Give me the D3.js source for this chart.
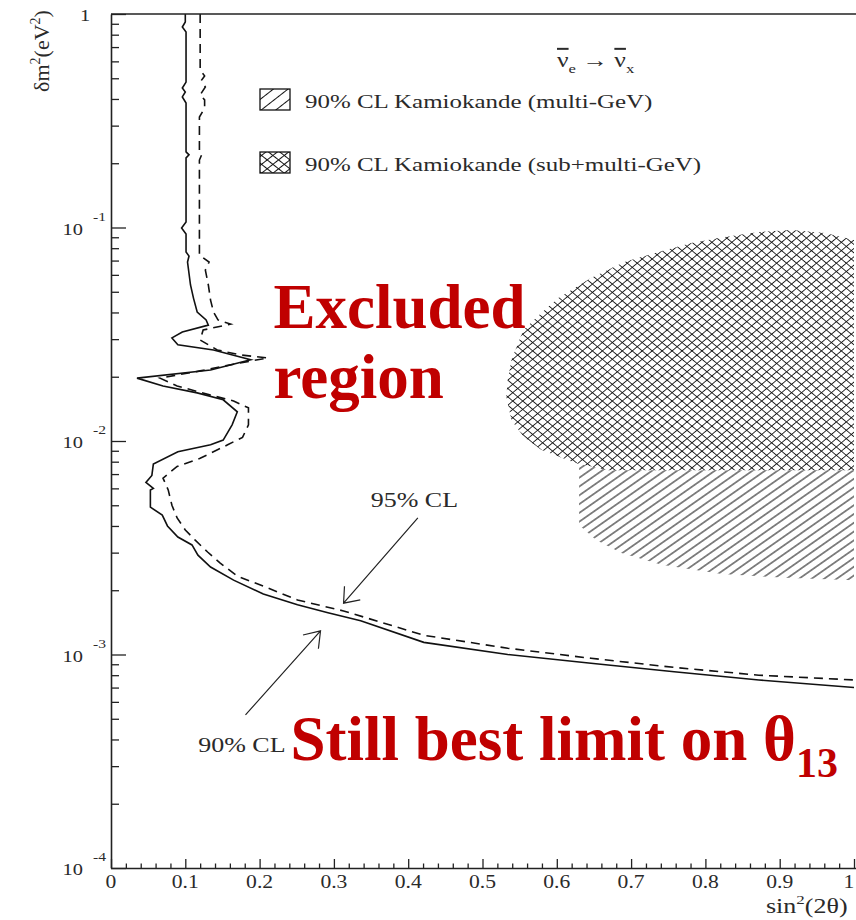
<!DOCTYPE html>
<html>
<head>
<meta charset="utf-8">
<script src="https://cdn.jsdelivr.net/npm/d3@7"></script>
<style>
  html, body { margin: 0; padding: 0; background: #fff; }
  svg { display: block; }
  .serif { font-family: "Liberation Serif", "Times New Roman", Times, serif; }
</style>
</head>
<body>
<svg id="chart" width="856" height="920"></svg>
<script>
// ---- Exclusion contours: [sin^2(2θ), δm^2 (eV^2)] ----
const cl90 = [
  [0.100, 1.0], [0.100, 0.917], [0.096, 0.869], [0.101, 0.823], [0.101, 0.480],
  [0.096, 0.450], [0.100, 0.431], [0.096, 0.409], [0.101, 0.383], [0.101, 0.226],
  [0.105, 0.219], [0.101, 0.212], [0.101, 0.106], [0.095, 0.0995], [0.101, 0.0932],
  [0.101, 0.0768], [0.105, 0.0735], [0.103, 0.0689], [0.107, 0.0538], [0.111, 0.0467],
  [0.116, 0.0402], [0.128, 0.0369], [0.131, 0.0349], [0.096, 0.0324], [0.082, 0.0304],
  [0.090, 0.0282], [0.138, 0.0267], [0.188, 0.0240], [0.134, 0.0215], [0.035, 0.0197],
  [0.070, 0.0181], [0.116, 0.0168], [0.151, 0.0156], [0.170, 0.0137], [0.163, 0.0119],
  [0.151, 0.0101], [0.134, 0.0096], [0.090, 0.0089], [0.057, 0.0078], [0.055, 0.0069],
  [0.047, 0.0064], [0.057, 0.0060], [0.053, 0.0059], [0.053, 0.0049], [0.069, 0.0045],
  [0.076, 0.0040], [0.090, 0.00355], [0.109, 0.00326], [0.117, 0.00292], [0.134, 0.00257],
  [0.165, 0.00223], [0.205, 0.00192], [0.251, 0.00171], [0.292, 0.00157], [0.336, 0.00144],
  [0.421, 0.00114], [0.534, 0.00100], [0.646, 0.00091], [0.758, 0.00083], [0.872, 0.00076],
  [1.0, 0.00070]
];

const cl95 = [
  [0.120, 1.0], [0.120, 0.547], [0.126, 0.513], [0.122, 0.491], [0.127, 0.455],
  [0.120, 0.418], [0.126, 0.396], [0.126, 0.363], [0.119, 0.329], [0.119, 0.226],
  [0.122, 0.219], [0.119, 0.207], [0.119, 0.0743], [0.132, 0.0689], [0.127, 0.0632],
  [0.131, 0.0538], [0.134, 0.0457], [0.138, 0.0402], [0.144, 0.0369], [0.161, 0.0353],
  [0.124, 0.0331], [0.120, 0.0297], [0.143, 0.0267], [0.174, 0.0253], [0.211, 0.0245],
  [0.165, 0.0229], [0.120, 0.0213], [0.066, 0.0197], [0.089, 0.0181], [0.134, 0.0164],
  [0.165, 0.0154], [0.185, 0.0143], [0.185, 0.0119], [0.177, 0.0104], [0.157, 0.0096],
  [0.120, 0.0083], [0.089, 0.0076], [0.070, 0.0067], [0.077, 0.0059], [0.082, 0.0050],
  [0.089, 0.00436], [0.100, 0.00383], [0.113, 0.00344], [0.130, 0.00302], [0.147, 0.00268],
  [0.170, 0.00233], [0.211, 0.00205], [0.251, 0.00180], [0.313, 0.00160], [0.421, 0.00123],
  [0.534, 0.00107], [0.646, 0.00096], [0.758, 0.00087], [0.872, 0.00080], [1.0, 0.00076]
];

// ---- Kamiokande 90% CL allowed regions ----
const kamSubMulti = [
  [0.532, 0.0161], [0.534, 0.0193], [0.539, 0.0240], [0.555, 0.0331], [0.579, 0.0398],
  [0.602, 0.0467], [0.646, 0.0580], [0.691, 0.0689], [0.737, 0.0768], [0.781, 0.0846],
  [0.826, 0.0902], [0.872, 0.0953], [0.916, 0.0973], [0.961, 0.0942], [1.0, 0.0873],
  [1.0, 0.0073], [0.669, 0.0073], [0.624, 0.0079], [0.579, 0.0091], [0.556, 0.0104],
  [0.539, 0.0125]
];

const kamMulti = [
  [0.630, 0.0086], [1.0, 0.0086], [1.0, 0.00223], [0.916, 0.00228], [0.822, 0.00238],
  [0.741, 0.00263], [0.687, 0.00299], [0.653, 0.00344], [0.630, 0.00404]
];

// ---- Axis ticks ----
const xMajor = [0, 0.1, 0.2, 0.3, 0.4, 0.5, 0.6, 0.7, 0.8, 0.9, 1];
const xLabels = ["0", "0.1", "0.2", "0.3", "0.4", "0.5", "0.6", "0.7", "0.8", "0.9", "1"];
const yDecades = [-4, -3, -2, -1, 0];

// ---- Annotations ----
const arrow95 = { tail: [0.413, 0.00436], tip: [0.313, 0.00174] };
const arrow90 = { tail: [0.181, 0.000521], tip: [0.282, 0.00129] };
const label95 = { pos: [0.3495, 0.00491], text: "95% CL" };
const label90 = { pos: [0.1174, 0.000349], text: "90% CL" };
const legendItems = [
  { text: "90% CL Kamiokande (multi-GeV)", fill: "single" },
  { text: "90% CL Kamiokande (sub+multi-GeV)", fill: "cross" }
];

const W = 856, H = 920;
const x = d3.scaleLinear().domain([0, 1]).range([111, 854]);
const y = d3.scaleLog().domain([1e-4, 1]).range([868, 14]);

const svg = d3.select("#chart");
svg.append("rect").attr("width", W).attr("height", H).attr("fill", "#fff");

const defs = svg.append("defs");
function hatch(id, angle, spacing, width) {
  const p = defs.append("pattern")
    .attr("id", id)
    .attr("patternUnits", "userSpaceOnUse")
    .attr("width", 20).attr("height", spacing)
    .attr("patternTransform", `rotate(${angle})`);
  p.append("line")
    .attr("x1", 0).attr("x2", 20)
    .attr("y1", spacing / 2).attr("y2", spacing / 2)
    .attr("stroke", "#111").attr("stroke-width", width);
}
hatch("single", -35, 7.2, 1.0);
hatch("crossA", -40, 6.4, 0.9);
hatch("crossB", 40, 6.4, 0.9);
hatch("legSingle", -38, 9, 1.0);
hatch("legCrossA", -38, 7, 1.0);
hatch("legCrossB", 38, 7, 1.0);

defs.append("clipPath").attr("id", "plotClip")
  .append("rect").attr("x", 111).attr("y", 14).attr("width", W - 111).attr("height", 868 - 14);

const plot = svg.append("g").attr("clip-path", "url(#plotClip)");

// Hatched regions
const area = d3.line().x(d => x(d[0])).y(d => y(d[1]));
plot.append("path").attr("d", area(kamMulti) + "Z").attr("fill", "url(#single)");
plot.append("path").attr("d", area(kamSubMulti) + "Z").attr("fill", "#fff");
plot.append("path").attr("d", area(kamSubMulti) + "Z").attr("fill", "url(#crossA)");
plot.append("path").attr("d", area(kamSubMulti) + "Z").attr("fill", "url(#crossB)");

// Contours
const line = d3.line().x(d => x(d[0])).y(d => y(d[1]));
plot.append("path").attr("d", line(cl95))
  .attr("fill", "none").attr("stroke", "#111").attr("stroke-width", 1.6)
  .attr("stroke-dasharray", "9,6");
plot.append("path").attr("d", line(cl90))
  .attr("fill", "none").attr("stroke", "#111").attr("stroke-width", 1.6);

// ---- Axes ----
const axisColor = "#222";
const xMinor = d3.range(0, 1.0001, 0.02).filter(v => Math.abs(v * 10 - Math.round(v * 10)) > 1e-6);
const gx = svg.append("g").attr("transform", `translate(0,868)`);
gx.call(d3.axisBottom(x).tickValues(xMajor).tickSize(-9).tickSizeOuter(0).tickFormat(""));
gx.append("g").call(d3.axisBottom(x).tickValues(xMinor).tickSize(-4.5).tickSizeOuter(0).tickFormat(""))
  .select(".domain").remove();
gx.select(".domain").attr("d", `M${x(0)},0.5H${W}`);

const yMinor = [];
yDecades.slice(0, -1).forEach(e => { for (let k = 2; k <= 9; k++) yMinor.push(k * Math.pow(10, e)); });
const gy = svg.append("g").attr("transform", `translate(111,0)`);
gy.call(d3.axisLeft(y).tickValues(yDecades.map(e => Math.pow(10, e))).tickSize(-15).tickSizeOuter(0).tickFormat(""));
gy.append("g").call(d3.axisLeft(y).tickValues(yMinor).tickSize(-8).tickSizeOuter(0).tickFormat(""))
  .select(".domain").remove();

svg.selectAll(".domain").attr("stroke", axisColor).attr("stroke-width", 1.6);
svg.selectAll(".tick line").attr("stroke", axisColor).attr("stroke-width", 1.3);

// top frame
svg.append("line").attr("x1", x(0)).attr("x2", W).attr("y1", 14).attr("y2", 14)
  .attr("stroke", axisColor).attr("stroke-width", 1.6);

const textColor = "#2a2a2a";
// x tick labels (the last one is kept inside the canvas)
svg.append("g").selectAll("text").data(xMajor).join("text")
  .attr("class", "serif")
  .attr("transform", d => `translate(${Math.min(x(d), W - 7)},888) scale(1.2,1)`)
  .attr("text-anchor", "middle").attr("font-size", 18).attr("fill", textColor)
  .text((d, i) => xLabels[i]);

// y tick labels
const yl = svg.append("g").attr("class", "serif").attr("fill", textColor);
yDecades.forEach(e => {
  const py = y(Math.pow(10, e));
  if (e === 0) {
    yl.append("text").attr("transform", `translate(85,${py + 7}) scale(1.2,1)`)
      .attr("text-anchor", "middle").attr("font-size", 17).text("1");
  } else {
    yl.append("text").attr("transform", `translate(83,${py + 7}) scale(1.2,1)`)
      .attr("text-anchor", "end").attr("font-size", 17).text("10");
    yl.append("text").attr("transform", `translate(93,${py - 7}) scale(1.2,1)`)
      .attr("text-anchor", "start").attr("font-size", 13).text(String(e));
  }
});

// axis titles
const yt = svg.append("text").attr("class", "serif")
  .attr("transform", "translate(49,51) rotate(-90)")
  .attr("text-anchor", "middle").attr("font-size", 22).attr("fill", textColor);
yt.append("tspan").text("δm");
yt.append("tspan").attr("font-size", 14).attr("dy", -9).text("2");
yt.append("tspan").attr("dy", 9).text("(eV");
yt.append("tspan").attr("font-size", 14).attr("dy", -9).text("2");
yt.append("tspan").attr("dy", 9).text(")");

const xt = svg.append("text").attr("class", "serif")
  .attr("transform", "translate(766,913) scale(1.3,1)")
  .attr("font-size", 20).attr("fill", textColor);
xt.append("tspan").text("sin");
xt.append("tspan").attr("font-size", 13).attr("dy", -9).text("2");
xt.append("tspan").attr("dy", 9).text("(2θ)");

// ---- Legend ----
const leg = svg.append("g");
const legTop = [89, 152];
legendItems.forEach((it, i) => {
  const ty = legTop[i];
  const fills = it.fill === "single" ? ["legSingle"] : ["legCrossA", "legCrossB"];
  fills.forEach(p => leg.append("rect").attr("x", 260).attr("y", ty)
    .attr("width", 30).attr("height", 21).attr("fill", `url(#${p})`));
  leg.append("rect").attr("x", 260).attr("y", ty).attr("width", 30).attr("height", 21)
    .attr("fill", "none").attr("stroke", "#111").attr("stroke-width", 1.3);
  leg.append("text").attr("class", "serif")
    .attr("transform", `translate(305,${ty + 19}) scale(1.28,1)`)
    .attr("font-size", 19.5).attr("fill", textColor).text(it.text);
});

// channel label: anti-nu_e -> anti-nu_x
const ch = svg.append("text").attr("class", "serif")
  .attr("transform", "translate(557,67) scale(1.28,1)")
  .attr("font-size", 20).attr("fill", textColor);
ch.append("tspan").style("text-decoration", "overline").text("ν");
ch.append("tspan").attr("font-size", 13).attr("dy", 6).text("e");
ch.append("tspan").attr("dy", -6).text(" → ");
ch.append("tspan").style("text-decoration", "overline").text("ν");
ch.append("tspan").attr("font-size", 13).attr("dy", 6).text("x");

// ---- CL annotations ----
function drawArrow(a, len, half) {
  const x0 = x(a.tail[0]), y0 = y(a.tail[1]);
  const x1 = x(a.tip[0]), y1 = y(a.tip[1]);
  const ang = Math.atan2(y0 - y1, x0 - x1);
  const h = half * Math.PI / 180;
  const p1 = [x1 + len * Math.cos(ang - h), y1 + len * Math.sin(ang - h)];
  const p2 = [x1 + len * Math.cos(ang + h), y1 + len * Math.sin(ang + h)];
  svg.append("path")
    .attr("d", `M${x0},${y0}L${x1},${y1}M${p1[0]},${p1[1]}L${x1},${y1}L${p2[0]},${p2[1]}`)
    .attr("fill", "none").attr("stroke", "#222").attr("stroke-width", 1.2);
}
drawArrow(arrow95, 17, 38);
drawArrow(arrow90, 18, 35);

[label95, label90].forEach(l => {
  svg.append("text").attr("class", "serif")
    .attr("transform", `translate(${x(l.pos[0])},${y(l.pos[1])}) scale(1.3,1)`)
    .attr("font-size", 20).attr("fill", textColor).text(l.text);
});

// ---- Highlight text ----
const red = "#c00000";
const bigFont = 63;
svg.append("text").attr("class", "serif")
  .attr("x", x(0.2186)).attr("y", y(0.0338))
  .attr("font-size", bigFont).attr("font-weight", "bold").attr("fill", red).text("Excluded");
svg.append("text").attr("class", "serif")
  .attr("x", x(0.2186)).attr("y", y(0.0159))
  .attr("font-size", bigFont).attr("font-weight", "bold").attr("fill", red).text("region");
const sb = svg.append("text").attr("class", "serif")
  .attr("x", x(0.2416)).attr("y", y(0.000321))
  .attr("font-size", bigFont).attr("font-weight", "bold").attr("fill", red);
sb.append("tspan").text("Still best limit on θ");
sb.append("tspan").attr("font-size", 42).attr("dy", 17).text("13");
</script>
</body>
</html>
